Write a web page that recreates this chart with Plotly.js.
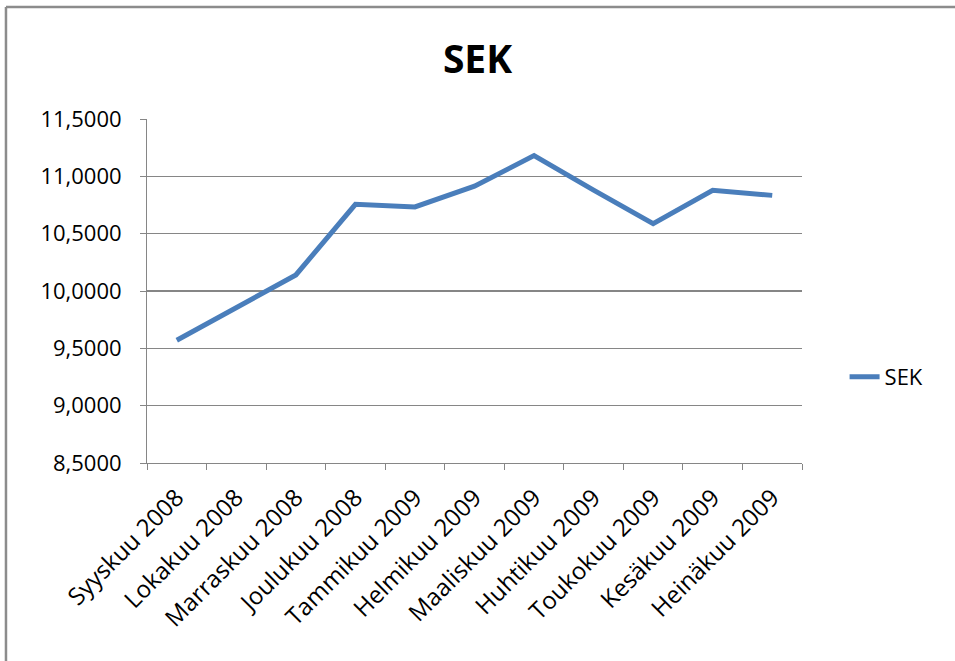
<!DOCTYPE html>
<html>
<head>
<meta charset="utf-8">
<script src="https://cdn.plot.ly/plotly-3.0.1.min.js"></script>
<style>
  html, body { margin: 0; padding: 0; background: #fff; }
  #chart { width: 955px; height: 661px; }
</style>
</head>
<body>
<div id="chart"></div>
<script>
const months = ["Syyskuu 2008", "Lokakuu 2008", "Marraskuu 2008", "Joulukuu 2008", "Tammikuu 2009",
                "Helmikuu 2009", "Maaliskuu 2009", "Huhtikuu 2009", "Toukokuu 2009", "Kesäkuu 2009", "Heinäkuu 2009"];
const sekValues = [9.57, 9.85, 10.14, 10.756, 10.733, 10.914, 11.181, 10.88, 10.587, 10.878, 10.834];
const seriesName = "SEK";
const chartTitle = "SEK";

const font = "Open Sans, Lato, sans-serif";
const grey = "#868686";

const trace = {
  x: months,
  y: sekValues,
  name: seriesName,
  type: "scatter",
  mode: "lines",
  line: { color: "#4a7ebb", width: 5 }
};

const layout = {
  width: 955, height: 661,
  margin: { l: 147, r: 153, t: 119, b: 198 },
  paper_bgcolor: "#fff", plot_bgcolor: "#fff",
  separators: ", ",
  font: { family: font, size: 22, color: "#000" },
  title: { text: "<b>" + chartTitle + "</b>", font: { family: font, size: 39, color: "#000" },
           x: 0.5, xanchor: "center", y: 0.91, yanchor: "middle" },
  showlegend: true,
  legend: { x: 1.065, xanchor: "left", y: 0.25, yanchor: "middle",
            font: { family: font, size: 22, color: "#000" }, bgcolor: "rgba(0,0,0,0)" },
  xaxis: {
    type: "category",
    range: [-0.5, 10.5],
    tickangle: -45,
    ticks: "outside", ticklen: 6, tickcolor: grey, tickwidth: 1,
    tickson: "boundaries",
    ticklabelstandoff: 10,
    showline: true, linecolor: grey, linewidth: 1,
    showgrid: false, zeroline: false,
    tickfont: { family: font, size: 24, color: "#000" },
    automargin: false
  },
  yaxis: {
    range: [8.5, 11.5],
    dtick: 0.5, tick0: 8.5,
    tickformat: ".4f",
    ticks: "outside", ticklen: 6, tickcolor: grey, tickwidth: 1,
    ticklabelstandoff: 14,
    showline: true, linecolor: grey, linewidth: 1,
    showgrid: true, gridcolor: grey, gridwidth: 1.3,
    zeroline: false,
    tickfont: { family: font, size: 22, color: "#000" },
    automargin: false
  },
  shapes: [
    { type: "line", xref: "paper", yref: "paper", x0: -0.2153, x1: -0.2153, y0: 1.3256, y1: -0.58,
      line: { color: "#8c8c8c", width: 2.5 } },
    { type: "line", xref: "paper", yref: "paper", x0: -0.2153, x1: 1.24, y0: 1.3256, y1: 1.3256,
      line: { color: "#8c8c8c", width: 2.5 } }
  ]
};

Plotly.newPlot("chart", [trace], layout, { staticPlot: true, displayModeBar: false });
</script>
</body>
</html>
